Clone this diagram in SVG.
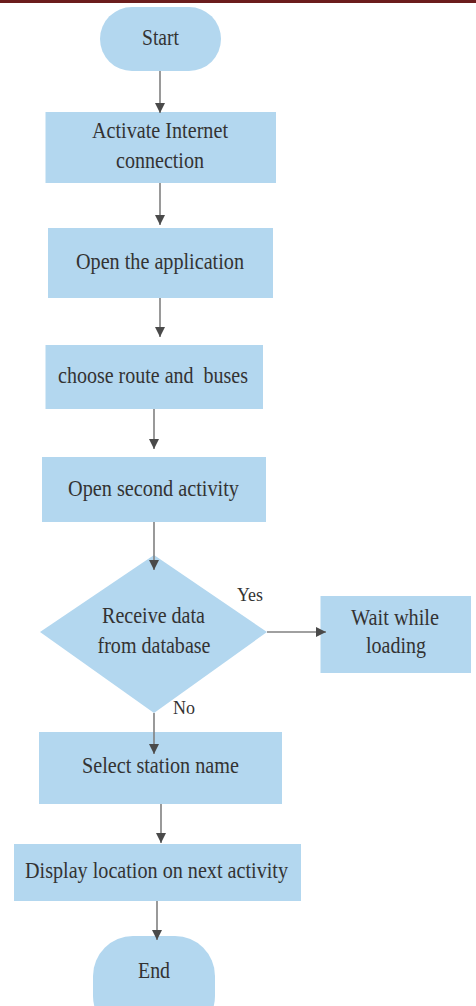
<svg xmlns="http://www.w3.org/2000/svg" width="476" height="1006" viewBox="0 0 476 1006">
  <style>
    .shape { fill: #b3d7ef; }
    .label { font-family: "Liberation Serif", "DejaVu Serif", serif; font-size: 23px; fill: #333333; text-anchor: middle; }
    .tag { font-family: "Liberation Serif", "DejaVu Serif", serif; font-size: 18px; fill: #333333; }
    .edge { stroke: #808080; stroke-width: 1.6; fill: none; marker-end: url(#head); }
  </style>
  <defs>
    <marker id="head" viewBox="0 0 10 12" refX="10" refY="6" markerWidth="10" markerHeight="12" markerUnits="userSpaceOnUse" orient="auto">
      <path d="M0,1 L10,6 L0,11 Z" fill="#4a4a4a"/>
    </marker>
  </defs>

  <rect x="0" y="0" width="476" height="3" fill="#6b1d1d"/>

  <g id="start">
    <rect class="shape" x="100" y="7" width="121" height="64" rx="32" ry="32"/>
    <text class="label" x="160.5" y="45" textLength="37" lengthAdjust="spacingAndGlyphs">Start</text>
  </g>

  <g id="activate">
    <rect class="shape" x="45.5" y="112" width="230.5" height="71"/>
    <text class="label" x="160" y="138" textLength="136" lengthAdjust="spacingAndGlyphs">Activate Internet</text>
    <text class="label" x="160" y="168" textLength="88" lengthAdjust="spacingAndGlyphs">connection</text>
  </g>

  <g id="open-app">
    <rect class="shape" x="48" y="228" width="225" height="70"/>
    <text class="label" x="160" y="269" textLength="168" lengthAdjust="spacingAndGlyphs">Open the application</text>
  </g>

  <g id="choose-route">
    <rect class="shape" x="45.5" y="345" width="217.5" height="64"/>
    <text class="label" x="153" y="383" textLength="190" lengthAdjust="spacingAndGlyphs" xml:space="preserve">choose route and  buses</text>
  </g>

  <g id="second-activity">
    <rect class="shape" x="42" y="457" width="224" height="65"/>
    <text class="label" x="153.5" y="496" textLength="171" lengthAdjust="spacingAndGlyphs">Open second activity</text>
  </g>

  <g id="receive-data">
    <polygon class="shape" points="154,555 267,632 154,713 40,632"/>
    <text class="label" x="153.5" y="623" textLength="103" lengthAdjust="spacingAndGlyphs">Receive data</text>
    <text class="label" x="154" y="653" textLength="113" lengthAdjust="spacingAndGlyphs">from database</text>
  </g>

  <g id="wait-loading">
    <rect class="shape" x="320.5" y="596" width="150.5" height="77"/>
    <text class="label" x="395" y="625" textLength="88" lengthAdjust="spacingAndGlyphs">Wait while</text>
    <text class="label" x="396" y="653" textLength="60" lengthAdjust="spacingAndGlyphs">loading</text>
  </g>

  <g id="select-station">
    <rect class="shape" x="39" y="732" width="243" height="72"/>
    <text class="label" x="160.5" y="773" textLength="157" lengthAdjust="spacingAndGlyphs">Select station name</text>
  </g>

  <g id="display-location">
    <rect class="shape" x="14" y="844" width="287" height="57"/>
    <text class="label" x="156.5" y="878" textLength="263" lengthAdjust="spacingAndGlyphs">Display location on next activity</text>
  </g>

  <g id="end">
    <rect class="shape" x="93" y="936" width="122" height="100" rx="40" ry="40"/>
    <text class="label" x="154" y="978" textLength="32" lengthAdjust="spacingAndGlyphs">End</text>
  </g>

  <!-- arrows sit above the shapes so heads that overlap a shape stay visible -->
  <g id="connectors">
    <line class="edge" x1="160" y1="71" x2="160" y2="113"/>
    <line class="edge" x1="160" y1="183" x2="160" y2="225"/>
    <line class="edge" x1="160" y1="298" x2="160" y2="337"/>
    <line class="edge" x1="154" y1="409" x2="154" y2="449"/>
    <line class="edge" x1="154" y1="522" x2="154" y2="570"/>
    <line class="edge" x1="267" y1="632" x2="326" y2="632"/>
    <line class="edge" x1="154" y1="713" x2="154" y2="754"/>
    <line class="edge" x1="161" y1="804" x2="161" y2="843"/>
    <line class="edge" x1="157" y1="901" x2="157" y2="940"/>
    <text class="tag" x="237" y="601" textLength="26" lengthAdjust="spacingAndGlyphs">Yes</text>
    <text class="tag" x="173" y="714" textLength="22" lengthAdjust="spacingAndGlyphs">No</text>
  </g>
</svg>
